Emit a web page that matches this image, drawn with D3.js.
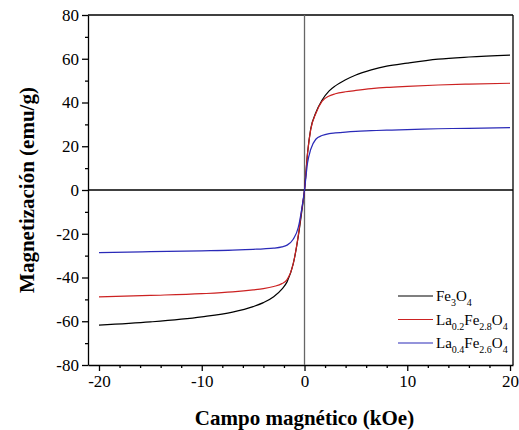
<!DOCTYPE html>
<html>
<head>
<meta charset="utf-8">
<script src="https://cdn.jsdelivr.net/npm/d3@7"></script>
<style>
  body { margin: 0; background: #fff; }
  svg { display: block; }
</style>
</head>
<body>
<script>
// campo aplicado (kOe)
var field = [-20, -15, -10, -7, -5, -4, -3, -2.2, -1.7, -1.1, -0.6, -0.3, 0,
             0.3, 0.6, 1.1, 1.7, 2.4, 3, 4, 5, 6.5, 8, 10, 13, 16, 20]

// magnetizacion (emu/g)
var fe3o4 = [-61.8, -60.3, -58.0, -55.8, -53.3, -51.5, -48.8, -45.3, -42.0, -33.8, -21.0, -11.0, 0,
             17.0, 27.8, 35.3, 41.0, 45.3, 47.6, 50.4, 52.6, 54.9, 56.6, 58.0, 59.8, 60.8, 61.7]
var la02 = [-48.9, -48.2, -47.4, -46.6, -45.7, -45.1, -44.1, -42.8, -41.0, -33.8, -20.5, -10.0, 0,
            17.0, 27.5, 35.0, 40.5, 43.0, 44.0, 44.9, 45.5, 46.3, 46.9, 47.4, 48.0, 48.4, 48.8]
var la04 = [-28.6, -28.2, -27.8, -27.5, -27.1, -26.9, -26.6, -26.0, -25.2, -22.5, -17.0, -9.5, 0,
            12.5, 18.5, 23.2, 24.9, 25.8, 26.1, 26.5, 26.8, 27.1, 27.4, 27.6, 28.0, 28.2, 28.5]

var seriesNames = [["Fe", "3", "O", "4"], ["La", "0.2", "Fe", "2.8", "O", "4"], ["La", "0.4", "Fe", "2.6", "O", "4"]]
var seriesColors = ["#000000", "#cc2222", "#2a2ab8"]
var xTicks = [-20, -10, 0, 10, 20]
var yTicks = [-80, -60, -40, -20, 0, 20, 40, 60, 80]

var width = 519, height = 430
var margin = {top: 15, right: 6, bottom: 65, left: 88}

var svg = d3.select("body").append("svg")
    .attr("width", width).attr("height", height)

var x = d3.scaleLinear().domain([-21.07, 20.29]).range([margin.left, width - margin.right])
var y = d3.scaleLinear().domain([-80, 80]).range([height - margin.bottom, margin.top])

var serif = "Liberation Serif, Times New Roman, serif"
var plain = function(d) { return String(d) }  // hyphen, not the unicode minus

// minor ticks first, then major ticks with labels
var xMinor = d3.range(-20, 21, 2).filter(function(d) { return d % 10 != 0 })
var yMinor = d3.range(-70, 80, 20)

svg.append("g")
    .attr("transform", "translate(0," + y(-80) + ")")
    .call(d3.axisBottom(x).tickValues(xMinor).tickSize(3).tickFormat(""))
    .call(function(g) { g.select(".domain").remove() })

svg.append("g")
    .attr("transform", "translate(" + x.range()[0] + ",0)")
    .call(d3.axisLeft(y).tickValues(yMinor).tickSize(3).tickFormat(""))
    .call(function(g) { g.select(".domain").remove() })

svg.append("g")
    .attr("transform", "translate(0," + y(-80) + ")")
    .call(d3.axisBottom(x).tickValues(xTicks).tickFormat(plain).tickSize(6).tickSizeOuter(0).tickPadding(4))

svg.append("g")
    .attr("transform", "translate(" + x.range()[0] + ",0)")
    .call(d3.axisLeft(y).tickValues(yTicks).tickFormat(plain).tickSize(6).tickSizeOuter(0).tickPadding(3))

svg.selectAll(".tick text")
    .attr("font-family", serif).attr("font-size", 17).attr("fill", "#000")
svg.selectAll(".domain, .tick line").attr("stroke", "#000").attr("stroke-width", 1.3)

// top and right edges of the frame
svg.append("line")
    .attr("x1", x.range()[0]).attr("x2", x.range()[1])
    .attr("y1", y(80)).attr("y2", y(80))
    .attr("stroke", "#000").attr("stroke-width", 1.3)
svg.append("line")
    .attr("x1", x.range()[1]).attr("x2", x.range()[1])
    .attr("y1", y(80)).attr("y2", y(-80))
    .attr("stroke", "#000").attr("stroke-width", 1.3)

// zero lines
svg.append("line")
    .attr("x1", x(0)).attr("x2", x(0))
    .attr("y1", y(80)).attr("y2", y(-80))
    .attr("stroke", "#666").attr("stroke-width", 1.3)
svg.append("line")
    .attr("x1", x.range()[0]).attr("x2", x.range()[1])
    .attr("y1", y(0)).attr("y2", y(0))
    .attr("stroke", "#000").attr("stroke-width", 1.3)

var line = d3.line()
    .x(function(d) { return x(d[0]) })
    .y(function(d) { return y(d[1]) })
    .curve(d3.curveMonotoneX)

var allSeries = [fe3o4, la02, la04]
for (var i = 0; i < allSeries.length; i++) {
  var pts = field.map(function(h, j) { return [h, allSeries[i][j]] })
  svg.append("path")
      .datum(pts)
      .attr("d", line)
      .attr("fill", "none")
      .attr("stroke", seriesColors[i])
      .attr("stroke-width", 1.2)
}

// legend
var legend = svg.append("g").attr("font-family", serif)
for (var i = 0; i < seriesNames.length; i++) {
  var ly = 296 + i * 23.5
  legend.append("line")
      .attr("x1", 398).attr("x2", 433)
      .attr("y1", ly).attr("y2", ly)
      .attr("stroke", seriesColors[i]).attr("stroke-width", 1.2)
  var t = legend.append("text")
      .attr("x", 436).attr("y", ly + 5)
      .attr("font-size", 15).attr("fill", "#000")
  var parts = seriesNames[i]
  for (var k = 0; k < parts.length; k++) {
    if (k % 2 == 0) {
      t.append("tspan").attr("dy", k == 0 ? 0 : -5).text(parts[k])
    } else {
      t.append("tspan").attr("dy", 5).attr("font-size", 10).text(parts[k])
    }
  }
}

// axis titles
svg.append("text")
    .attr("x", x(0)).attr("y", 425)
    .attr("text-anchor", "middle")
    .attr("font-family", serif).attr("font-weight", "bold").attr("font-size", 21)
    .text("Campo magnético (kOe)")

svg.append("text")
    .attr("transform", "translate(34," + y(0) + ") rotate(-90)")
    .attr("text-anchor", "middle")
    .attr("font-family", serif).attr("font-weight", "bold").attr("font-size", 21)
    .text("Magnetización (emu/g)")
</script>
</body>
</html>
